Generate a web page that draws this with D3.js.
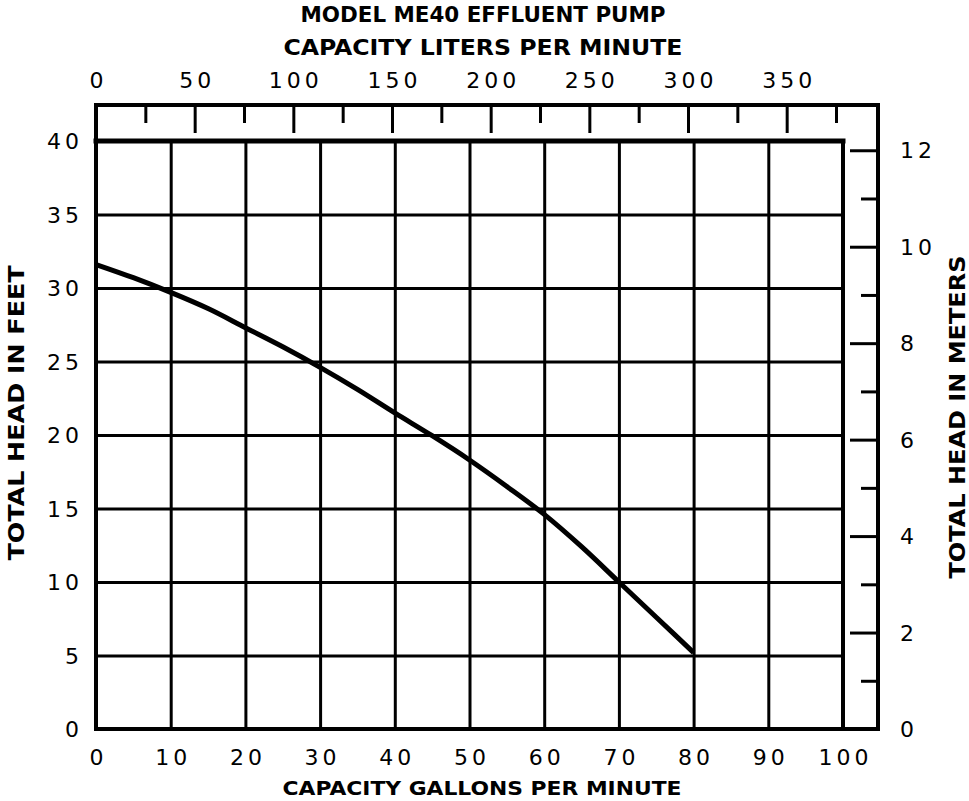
<!DOCTYPE html>
<html>
<head>
<meta charset="utf-8">
<script src="https://cdn.jsdelivr.net/npm/d3@7"></script>
<style>
  body { margin: 0; background: #fff; }
  svg { display: block; }
</style>
</head>
<body>
<div id="chart"></div>
<script>
// pump curve
var gpm    = [0, 5, 10, 15, 20, 25, 30, 35, 40, 45, 50, 55, 60, 65, 70, 75, 80];
var headFt = [31.6, 30.7, 29.7, 28.6, 27.3, 26.0, 24.6, 23.1, 21.5, 19.95, 18.3, 16.5, 14.6, 12.4, 10.0, 7.6, 5.2];

// tick labels
var gpmTicks = [0, 10, 20, 30, 40, 50, 60, 70, 80, 90, 100];
var feetTicks = [0, 5, 10, 15, 20, 25, 30, 35, 40];
var lpmLabels = [0, 50, 100, 150, 200, 250, 300, 350];
var lpmMarks = [25, 50, 75, 100, 125, 150, 175, 200, 225, 250, 275, 300, 325, 350, 375];
var meterMarks = [1, 2, 3, 4, 5, 6, 7, 8, 9, 10, 11, 12];
var meterLabels = [0, 2, 4, 6, 8, 10, 12];

var svgWidth = 969;
var svgHeight = 801;

var plot = { left: 96, right: 843, top: 141, bottom: 729 };
var outerRight = 878;
var outerTop = 105;
var spacing = 4; // letter spacing of the number labels

var svg = d3.select("#chart")
  .append("svg")
  .attr("width", svgWidth)
  .attr("height", svgHeight);

var x = d3.scaleLinear().domain([0, 100]).range([plot.left, plot.right]);
var y = d3.scaleLinear().domain([0, 40]).range([plot.bottom, plot.top]);
// same ranges, other units
var xL = d3.scaleLinear().domain([0, 100 * 3.78541]).range([plot.left, plot.right]);
var yM = d3.scaleLinear().domain([0, 40 * 0.3048]).range([plot.bottom, plot.top]);

var numFont = "'DejaVu Sans', sans-serif";
var titleFont = "'DejaVu Sans Condensed', 'Liberation Sans Narrow', 'DejaVu Sans', sans-serif";

// vertical grid lines
svg.append("g")
  .attr("transform", `translate(0, ${plot.bottom})`)
  .call(d3.axisBottom(x).tickValues(gpmTicks.slice(1, -1)).tickSize(-(plot.bottom - plot.top)).tickFormat(""))
  .call(g => g.select(".domain").remove())
  .selectAll("line")
  .attr("stroke", "#000")
  .attr("stroke-width", 3);

// horizontal grid lines
svg.append("g")
  .attr("transform", `translate(${plot.left}, 0)`)
  .call(d3.axisLeft(y).tickValues(feetTicks.slice(1, -1)).tickSize(-(plot.right - plot.left)).tickFormat(""))
  .call(g => g.select(".domain").remove())
  .selectAll("line")
  .attr("stroke", "#000")
  .attr("stroke-width", 3);

// frame lines
var frame = svg.append("g")
  .attr("stroke", "#000")
  .attr("stroke-width", 4)
  .attr("stroke-linecap", "square");

frame.append("line").attr("x1", plot.left).attr("x2", outerRight).attr("y1", outerTop).attr("y2", outerTop);
frame.append("line").attr("x1", plot.left).attr("x2", outerRight).attr("y1", plot.bottom).attr("y2", plot.bottom);
frame.append("line").attr("x1", plot.left).attr("x2", plot.left).attr("y1", outerTop).attr("y2", plot.bottom);
frame.append("line").attr("x1", outerRight).attr("x2", outerRight).attr("y1", outerTop).attr("y2", plot.bottom);
frame.append("line").attr("x1", plot.left).attr("x2", plot.right).attr("y1", plot.top).attr("y2", plot.top).attr("stroke-width", 5);
frame.append("line").attr("x1", plot.right).attr("x2", plot.right).attr("y1", plot.top).attr("y2", plot.bottom);

// liters ticks hanging from the top line
svg.append("g")
  .attr("transform", `translate(0, ${outerTop})`)
  .call(d3.axisBottom(xL).tickValues(lpmMarks).tickSize(1).tickFormat(""))
  .call(g => g.select(".domain").remove())
  .selectAll("line")
  .attr("y2", d => d % 50 === 0 ? 28 : 18)
  .attr("stroke", "#000")
  .attr("stroke-width", 3);

// liters labels
svg.append("g")
  .attr("transform", `translate(0, ${outerTop})`)
  .call(d3.axisTop(xL).tickValues(lpmLabels).tickSize(0).tickFormat(d3.format("d")))
  .call(g => g.select(".domain").remove())
  .selectAll("text")
  .attr("y", -25)
  .attr("dx", spacing / 2)
  .attr("dy", "0.35em");

// meter ticks pointing in from the right line
svg.append("g")
  .attr("transform", `translate(${outerRight}, 0)`)
  .call(d3.axisLeft(yM).tickValues(meterMarks).tickSize(1).tickFormat(""))
  .call(g => g.select(".domain").remove())
  .selectAll("line")
  .attr("x2", d => d % 2 === 0 ? -28 : -17)
  .attr("stroke", "#000")
  .attr("stroke-width", 3);

// meter labels
svg.append("g")
  .attr("transform", `translate(${outerRight}, 0)`)
  .call(d3.axisRight(yM).tickValues(meterLabels).tickSize(0).tickFormat(d3.format("d")))
  .call(g => g.select(".domain").remove())
  .selectAll("text")
  .attr("x", 22)
  .attr("dy", "0.35em");

// feet labels
svg.append("g")
  .attr("transform", `translate(${plot.left}, 0)`)
  .call(d3.axisLeft(y).tickValues(feetTicks).tickSize(0).tickFormat(d3.format("d")))
  .call(g => g.select(".domain").remove())
  .selectAll("text")
  .attr("x", -17 + spacing)
  .attr("dy", "0.35em");

// gallons labels
svg.append("g")
  .attr("transform", `translate(0, ${plot.bottom})`)
  .call(d3.axisBottom(x).tickValues(gpmTicks).tickSize(0).tickFormat(d3.format("d")))
  .call(g => g.select(".domain").remove())
  .selectAll("text")
  .attr("y", 28)
  .attr("dx", spacing / 2)
  .attr("dy", "0.35em");

svg.selectAll(".tick text")
  .attr("font-family", numFont)
  .attr("font-size", 22)
  .attr("letter-spacing", spacing)
  .attr("fill", "#000");

// head curve
var line = d3.line()
  .x((d, i) => x(gpm[i]))
  .y(d => y(d))
  .curve(d3.curveMonotoneX);

svg.append("path")
  .datum(headFt)
  .attr("d", line)
  .attr("fill", "none")
  .attr("stroke", "#000")
  .attr("stroke-width", 5)
  .attr("stroke-linejoin", "round");

// titles
svg.append("text")
  .attr("x", 483).attr("y", 15).attr("dy", "0.35em")
  .attr("text-anchor", "middle")
  .attr("textLength", 365).attr("lengthAdjust", "spacingAndGlyphs")
  .attr("font-family", titleFont).attr("font-size", 21).attr("font-weight", "bold")
  .text("MODEL ME40 EFFLUENT PUMP");

svg.append("text")
  .attr("x", 483).attr("y", 48).attr("dy", "0.35em")
  .attr("text-anchor", "middle")
  .attr("textLength", 399).attr("lengthAdjust", "spacingAndGlyphs")
  .attr("font-family", titleFont).attr("font-size", 21).attr("font-weight", "bold")
  .text("CAPACITY LITERS PER MINUTE");

svg.append("text")
  .attr("x", 482).attr("y", 788).attr("dy", "0.35em")
  .attr("text-anchor", "middle")
  .attr("textLength", 399).attr("lengthAdjust", "spacingAndGlyphs")
  .attr("font-family", numFont).attr("font-size", 20).attr("font-weight", "bold")
  .text("CAPACITY GALLONS PER MINUTE");

svg.append("text")
  .attr("transform", "translate(17, 413) rotate(-90)")
  .attr("dy", "0.35em")
  .attr("text-anchor", "middle")
  .attr("textLength", 295).attr("lengthAdjust", "spacingAndGlyphs")
  .attr("font-family", numFont).attr("font-size", 21).attr("font-weight", "bold")
  .text("TOTAL HEAD IN FEET");

svg.append("text")
  .attr("transform", "translate(958, 417) rotate(-90)")
  .attr("dy", "0.35em")
  .attr("text-anchor", "middle")
  .attr("textLength", 323).attr("lengthAdjust", "spacingAndGlyphs")
  .attr("font-family", numFont).attr("font-size", 21).attr("font-weight", "bold")
  .text("TOTAL HEAD IN METERS");
</script>
</body>
</html>
